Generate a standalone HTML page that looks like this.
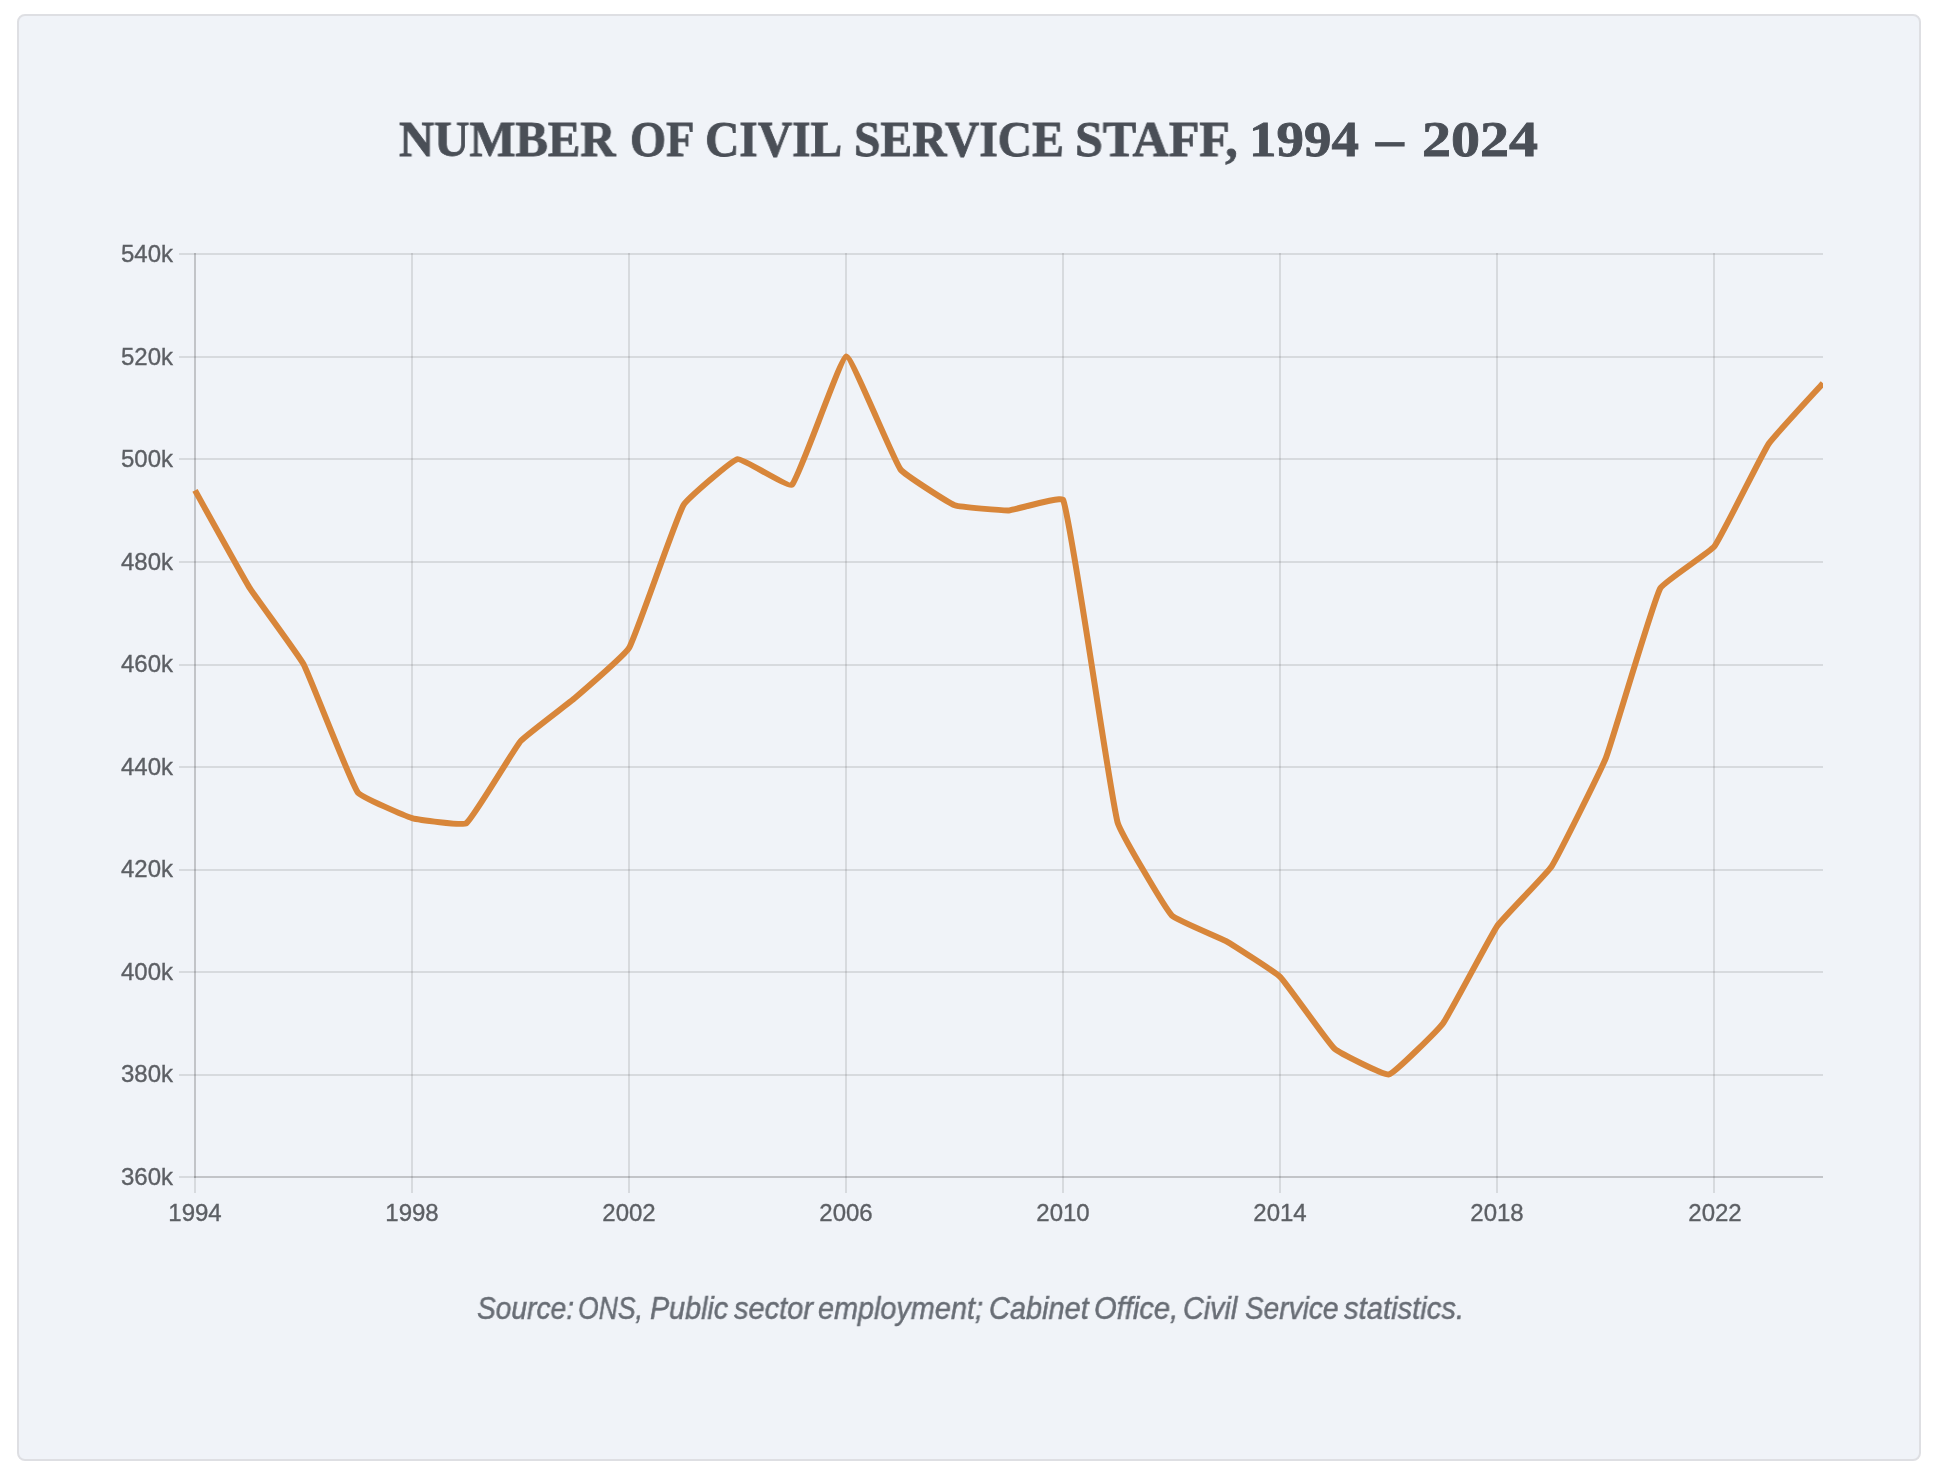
<!DOCTYPE html>
<html><head><meta charset="utf-8"><style>
html,body{margin:0;padding:0;background:#fff;width:1938px;height:1476px;overflow:hidden}
.card{position:absolute;left:17px;top:14px;width:1900px;height:1443px;border:2px solid #dedfe3;border-radius:8px;background:#f0f3f8}
.tw{position:absolute;font-family:"Liberation Serif",serif;font-weight:bold;color:#4a4f57;-webkit-text-stroke:0.8px #4a4f57;font-size:51px;line-height:1;white-space:nowrap;transform-origin:0 0;will-change:transform}
svg{position:absolute;left:0;top:0}
.yl{position:absolute;left:0;width:173px;text-align:right;font-family:"Liberation Sans",sans-serif;font-size:24px;line-height:28px;color:#5c5f64;-webkit-text-stroke:0.35px #5c5f64;will-change:transform}
.xl{position:absolute;top:1199px;width:120px;text-align:center;font-family:"Liberation Sans",sans-serif;font-size:24px;line-height:28px;color:#5c5f64;-webkit-text-stroke:0.35px #5c5f64;will-change:transform}
.sw{position:absolute;font-family:"Liberation Sans",sans-serif;font-style:italic;font-size:30.5px;line-height:1;color:#686d75;-webkit-text-stroke:0.5px #686d75;white-space:nowrap;transform-origin:0 0;will-change:transform}
</style></head><body>
<div class="card"></div>
<span class="tw" style="left:399.04px;top:114px;transform:scaleX(0.9558)">NUMBER</span>
<span class="tw" style="left:629.68px;top:114px;transform:scaleX(0.9090)">OF</span>
<span class="tw" style="left:705.34px;top:114px;transform:scaleX(0.9315)">CIVIL</span>
<span class="tw" style="left:854.10px;top:114px;transform:scaleX(0.9329)">SERVICE</span>
<span class="tw" style="left:1074.75px;top:114px;transform:scaleX(0.9820)">STAFF,</span>
<span class="tw" style="left:1248.89px;top:114px;transform:scaleX(1.0773)">1994</span>
<span class="tw" style="left:1376.30px;top:114px;transform:scaleX(1.0885)">–</span>
<span class="tw" style="left:1421.63px;top:114px;transform:scaleX(1.1374)">2024</span>
<svg width="1938" height="1476" viewBox="0 0 1938 1476" shape-rendering="crispEdges">
<rect x="179" y="253" width="1644" height="2" fill="rgba(0,0,0,0.1)"/>
<rect x="179" y="356" width="1644" height="2" fill="rgba(0,0,0,0.1)"/>
<rect x="179" y="458" width="1644" height="2" fill="rgba(0,0,0,0.1)"/>
<rect x="179" y="561" width="1644" height="2" fill="rgba(0,0,0,0.1)"/>
<rect x="179" y="664" width="1644" height="2" fill="rgba(0,0,0,0.1)"/>
<rect x="179" y="766" width="1644" height="2" fill="rgba(0,0,0,0.1)"/>
<rect x="179" y="869" width="1644" height="2" fill="rgba(0,0,0,0.1)"/>
<rect x="179" y="971" width="1644" height="2" fill="rgba(0,0,0,0.1)"/>
<rect x="179" y="1074" width="1644" height="2" fill="rgba(0,0,0,0.1)"/>
<rect x="179" y="1176" width="1644" height="2" fill="rgba(0,0,0,0.1)"/>
<rect x="194" y="253" width="2" height="940" fill="rgba(0,0,0,0.1)"/>
<rect x="411" y="253" width="2" height="940" fill="rgba(0,0,0,0.1)"/>
<rect x="628" y="253" width="2" height="940" fill="rgba(0,0,0,0.1)"/>
<rect x="845" y="253" width="2" height="940" fill="rgba(0,0,0,0.1)"/>
<rect x="1062" y="253" width="2" height="940" fill="rgba(0,0,0,0.1)"/>
<rect x="1279" y="253" width="2" height="940" fill="rgba(0,0,0,0.1)"/>
<rect x="1496" y="253" width="2" height="940" fill="rgba(0,0,0,0.1)"/>
<rect x="1713" y="253" width="2" height="940" fill="rgba(0,0,0,0.1)"/>
<rect x="194" y="253" width="2" height="925" fill="rgba(0,0,0,0.1)"/>
<rect x="194" y="1176" width="1629" height="2" fill="rgba(0,0,0,0.1)"/>
<defs><clipPath id="ca"><rect x="150" y="0" width="1673.0" height="1476"/></clipPath></defs>
<path shape-rendering="auto" d="M195.00 490.39 C200.43 500.08 243.39 577.90 249.27 587.31 C254.25 595.28 299.15 655.95 303.53 664.22 C310.01 676.46 350.22 781.67 357.80 792.42 C361.07 797.05 406.38 816.44 412.07 818.06 C417.23 819.52 462.46 825.93 466.33 823.18 C473.32 818.23 514.23 748.48 520.60 741.14 C525.09 735.97 569.62 702.58 574.87 698.07 C580.47 693.25 625.59 654.11 629.13 647.81 C636.44 634.83 676.00 518.12 683.40 505.26 C686.86 499.25 731.78 460.22 737.67 459.11 C742.63 458.17 788.66 487.84 791.93 484.75 C799.52 477.58 840.49 357.37 846.20 356.56 C851.34 355.83 893.33 459.58 900.47 469.37 C904.18 474.45 948.83 503.03 954.73 505.26 C959.68 507.13 1003.61 510.64 1009.00 510.39 C1014.46 510.13 1061.70 495.62 1063.27 500.13 C1072.55 526.80 1109.38 790.94 1117.53 822.16 C1120.23 832.48 1164.82 907.84 1171.80 915.48 C1175.68 919.73 1220.86 938.17 1226.07 941.12 C1231.71 944.32 1275.78 972.50 1280.33 977.02 C1286.63 983.27 1328.09 1042.96 1334.60 1048.81 C1338.94 1052.70 1384.03 1075.59 1388.87 1074.44 C1394.88 1073.02 1438.78 1029.13 1443.13 1023.17 C1449.63 1014.26 1491.10 934.85 1497.40 925.74 C1501.95 919.16 1547.34 872.96 1551.67 866.26 C1558.19 856.16 1601.53 769.07 1605.93 757.80 C1612.39 741.28 1652.37 603.59 1660.20 588.33 C1663.22 582.44 1710.43 551.66 1714.47 546.28 C1721.29 537.20 1762.35 453.32 1768.73 443.73 C1773.20 437.01 1817.57 389.27 1823.00 383.22" fill="none" stroke="#d8863a" stroke-width="6" stroke-linejoin="round" stroke-linecap="butt" clip-path="url(#ca)"/>
</svg>
<div class="yl" style="top:240.0px">540k</div>
<div class="yl" style="top:342.6px">520k</div>
<div class="yl" style="top:445.1px">500k</div>
<div class="yl" style="top:547.7px">480k</div>
<div class="yl" style="top:650.2px">460k</div>
<div class="yl" style="top:752.8px">440k</div>
<div class="yl" style="top:855.3px">420k</div>
<div class="yl" style="top:957.9px">400k</div>
<div class="yl" style="top:1060.4px">380k</div>
<div class="yl" style="top:1163.0px">360k</div>
<div class="xl" style="left:135.0px">1994</div>
<div class="xl" style="left:352.1px">1998</div>
<div class="xl" style="left:569.1px">2002</div>
<div class="xl" style="left:786.2px">2006</div>
<div class="xl" style="left:1003.3px">2010</div>
<div class="xl" style="left:1220.3px">2014</div>
<div class="xl" style="left:1437.4px">2018</div>
<div class="xl" style="left:1654.5px">2022</div>
<span class="sw" style="left:477.38px;top:1293px;transform:scaleX(0.9223)">Source:</span>
<span class="sw" style="left:578.26px;top:1293px;transform:scaleX(0.8710)">ONS,</span>
<span class="sw" style="left:650.16px;top:1293px;transform:scaleX(0.9415)">Public</span>
<span class="sw" style="left:734.10px;top:1293px;transform:scaleX(0.9500)">sector</span>
<span class="sw" style="left:818.36px;top:1293px;transform:scaleX(0.9445)">employment;</span>
<span class="sw" style="left:988.90px;top:1293px;transform:scaleX(0.9481)">Cabinet</span>
<span class="sw" style="left:1094.19px;top:1293px;transform:scaleX(0.9542)">Office,</span>
<span class="sw" style="left:1183.41px;top:1293px;transform:scaleX(0.9429)">Civil</span>
<span class="sw" style="left:1245.28px;top:1293px;transform:scaleX(0.9190)">Service</span>
<span class="sw" style="left:1344.10px;top:1293px;transform:scaleX(0.9566)">statistics.</span>
</body></html>
